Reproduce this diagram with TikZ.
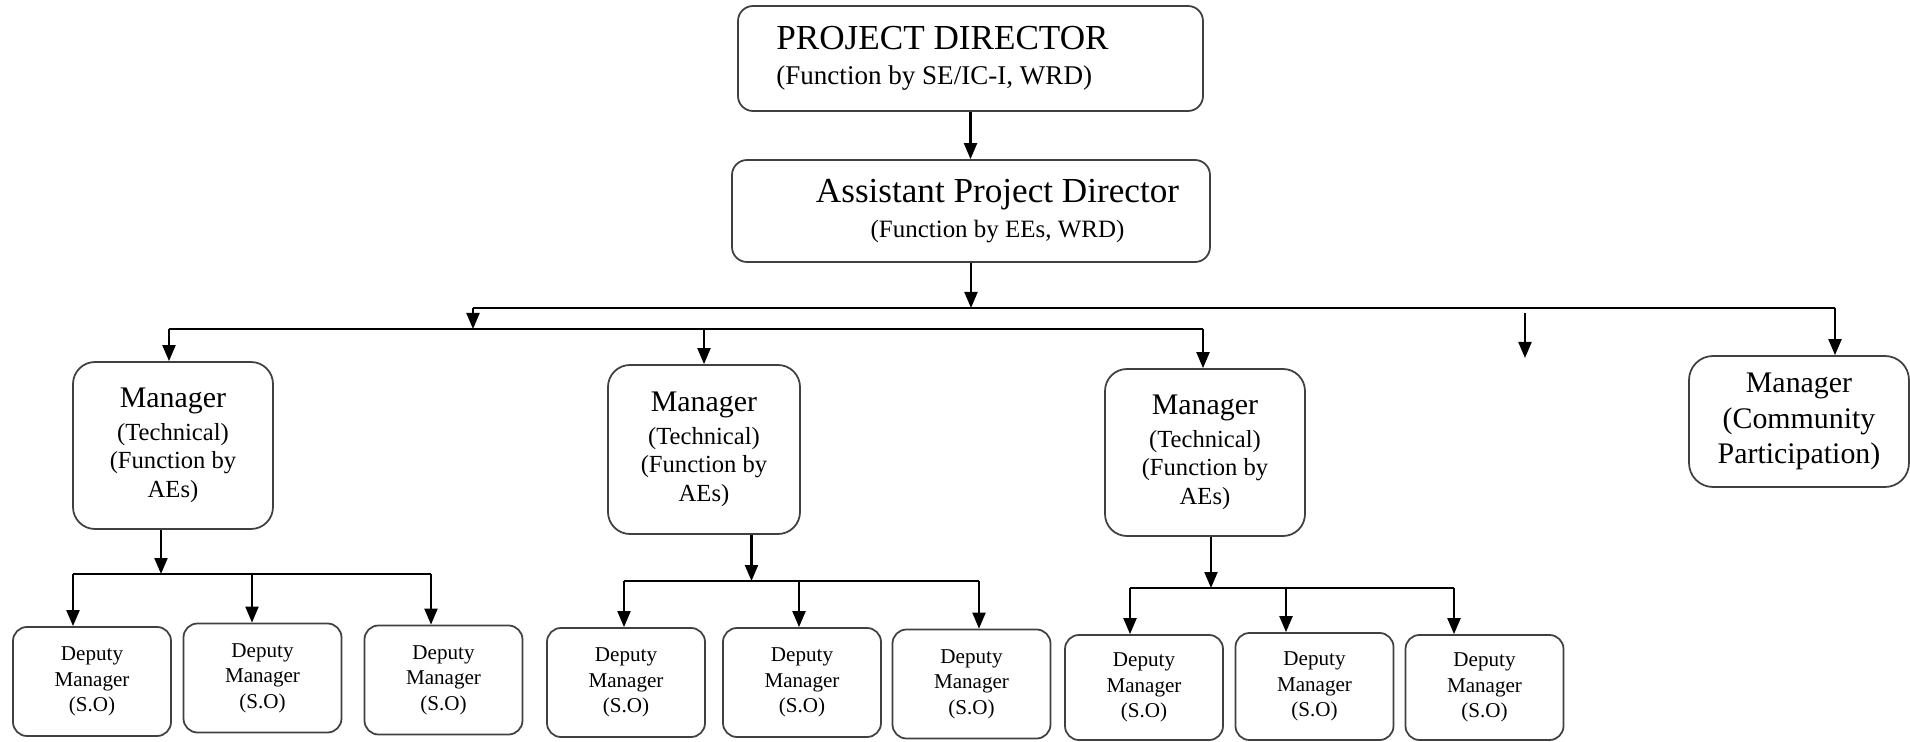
\documentclass[tikz,border=0pt]{standalone}
\usepackage{fontspec}
\setmainfont{Liberation Serif}
\usetikzlibrary{arrows.meta}

\begin{document}
\begin{tikzpicture}[
		>={Triangle[length=1.6mm,width=1.3mm]},
		box/.style   ={rectangle,draw=black!75,line width=0.5pt,align=center,inner sep=1pt},
		topbox/.style={box,rounded corners=1.5mm,font=\fontsize{7.5}{9}\selectfont},
		mgr/.style   ={box,rounded corners=2.2mm,minimum width=2cm,minimum height=1.67cm,font=\fontsize{7}{8.2}\selectfont},
		cmgr/.style  ={box,rounded corners=2.4mm,minimum width=2.2cm,minimum height=1.31cm,font=\fontsize{8.5}{10}\selectfont},
		dep/.style   ={box,rounded corners=1.4mm,minimum width=1.58cm,minimum height=1.09cm,font=\fontsize{6}{7.3}\selectfont},
		link/.style  ={draw,->,line width=0.6pt},
		bus/.style   ={draw,line width=0.6pt}
		]

		\useasboundingbox (0,0) rectangle (19.10,-7.42);

		% ---- top of the chart ----
		\node[topbox,align=left,minimum width=4.65cm,minimum height=1.05cm] (pd) at (9.705,-0.585)
			{{\fontsize{10}{9}\selectfont PROJECT DIRECTOR}\hspace*{5.6mm}\\[1pt]{\fontsize{7.7}{9}\selectfont (Function by SE/IC-I, WRD)}};
		\node[topbox,minimum width=4.78cm,minimum height=1.02cm] (apd) at (9.71,-2.11)
			{\hspace*{5.3mm}{\fontsize{10}{9}\selectfont Assistant Project Director}\\[1pt]\hspace*{5.3mm}{\fontsize{7.1}{9}\selectfont (Function by EEs, WRD)}};

		% ---- managers ----
		\node[mgr] (m1) at ( 1.73,-4.455) {{\fontsize{8.5}{8.2}\selectfont Manager}\\[1pt](Technical)\\(Function by\\AEs)};
		\node[mgr,minimum width=1.92cm,minimum height=1.69cm] (m2) at ( 7.04,-4.495) {{\fontsize{8.5}{8.2}\selectfont Manager}\\[1pt](Technical)\\(Function by\\AEs)};
		\node[mgr] (m3) at (12.05,-4.525) {{\fontsize{8.5}{8.2}\selectfont Manager}\\[1pt](Technical)\\(Function by\\AEs)};
		\node[cmgr] (m4) at (17.99,-4.215) {Manager\\(Community\\Participation)};

		% ---- deputy managers ----
		\node[dep] (d11) at ( 0.92,-6.815) {Deputy\\Manager\\(S.O)};
		\node[dep] (d12) at ( 2.625,-6.78) {Deputy\\Manager\\(S.O)};
		\node[dep] (d13) at ( 4.435,-6.80) {Deputy\\Manager\\(S.O)};

		\node[dep] (d21) at ( 6.26,-6.825) {Deputy\\Manager\\(S.O)};
		\node[dep] (d22) at ( 8.02,-6.825) {Deputy\\Manager\\(S.O)};
		\node[dep] (d23) at ( 9.715,-6.84) {Deputy\\Manager\\(S.O)};

		\node[dep,minimum height=1.05cm] (d31) at (11.44,-6.875) {Deputy\\Manager\\(S.O)};
		\node[dep,minimum height=1.07cm] (d32) at (13.145,-6.865) {Deputy\\Manager\\(S.O)};
		\node[dep,minimum height=1.05cm] (d33) at (14.845,-6.875) {Deputy\\Manager\\(S.O)};

		% ---- junction points ----
		\coordinate (bus1w) at ( 4.73,-3.08);
		\coordinate (bus1e) at (18.35,-3.08);
		\coordinate (bus2w) at ( 1.69,-3.29);
		\coordinate (bus2e) at (12.03,-3.29);
		\coordinate (strayA) at (15.25,-3.13);
		\coordinate (strayB) at (15.25,-3.58);

		\coordinate (j1)   at ( 1.61,-5.74);
		\coordinate (j11)  at ( 0.73,-5.74);
		\coordinate (j12)  at ( 2.52,-5.74);
		\coordinate (j13)  at ( 4.31,-5.74);

		\coordinate (j2)   at ( 7.515,-5.81);
		\coordinate (j21)  at ( 6.24,-5.81);
		\coordinate (j22)  at ( 7.99,-5.81);
		\coordinate (j23)  at ( 9.79,-5.81);

		\coordinate (j3)   at (12.11,-5.88);
		\coordinate (j31)  at (11.30,-5.88);
		\coordinate (j32)  at (12.86,-5.88);
		\coordinate (j33)  at (14.54,-5.88);

		% ---- director -> assistant -> buses ----
		\draw[link] (pd.south) -- (pd.south |- apd.north);
		\draw[link] (apd.south) -- (apd.south |- bus1w);
		\draw[bus]  (bus1w) -- (bus1e);
		\draw[link] (bus1w) -- (bus1w |- bus2w);
		\draw[link] (bus1e) -- (bus1e |- m4.north);
		\draw[link] (strayA) -- (strayB);
		\draw[bus]  (bus2w) -- (bus2e);

		% ---- bus -> managers ----
		\draw[link] (bus2w) -- (bus2w |- m1.north);
		\draw[link] (m2.north |- bus2w) -- (m2.north);
		\draw[link] (bus2e) -- (bus2e |- m3.north);

		% ---- managers -> deputies ----
		\draw[link] (j1 |- m1.south) -- (j1);
		\draw[bus]  (j11) -- (j13);
		\draw[link] (j11) -- (j11 |- d11.north);
		\draw[link] (j12) -- (j12 |- d12.north);
		\draw[link] (j13) -- (j13 |- d13.north);

		\draw[link] (j2 |- m2.south) -- (j2);
		\draw[bus]  (j21) -- (j23);
		\draw[link] (j21) -- (j21 |- d21.north);
		\draw[link] (j22) -- (j22 |- d22.north);
		\draw[link] (j23) -- (j23 |- d23.north);

		\draw[link] (j3 |- m3.south) -- (j3);
		\draw[bus]  (j31) -- (j33);
		\draw[link] (j31) -- (j31 |- d31.north);
		\draw[link] (j32) -- (j32 |- d32.north);
		\draw[link] (j33) -- (j33 |- d33.north);

	\end{tikzpicture}
\end{document}
